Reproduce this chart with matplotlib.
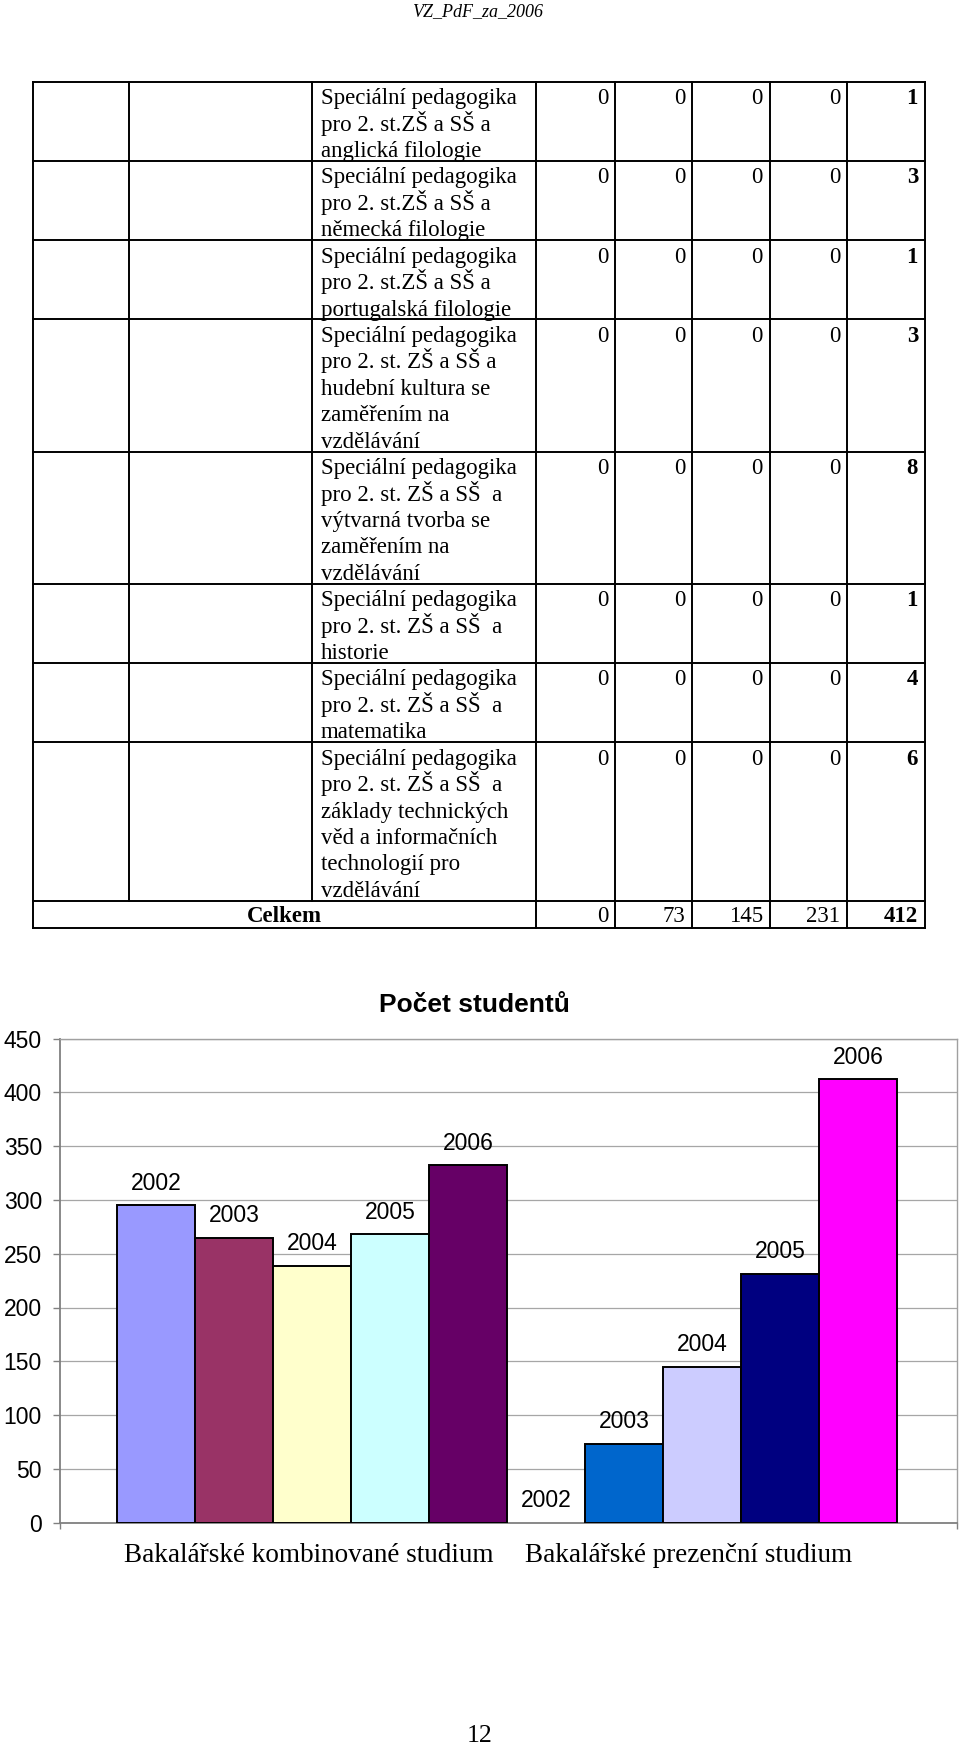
import matplotlib
matplotlib.use("Agg")
import matplotlib.pyplot as plt
import numpy as np

plt.rcParams["font.family"] = ["Liberation Sans", "DejaVu Sans"]

# --- table data ---
programs = [
    ["Speciální pedagogika", "pro 2. st.ZŠ a SŠ a", "anglická filologie"],
    ["Speciální pedagogika", "pro 2. st.ZŠ a SŠ a", "německá filologie"],
    ["Speciální pedagogika", "pro 2. st.ZŠ a SŠ a", "portugalská filologie"],
    ["Speciální pedagogika", "pro 2. st. ZŠ a SŠ a", "hudební kultura se",
     "zaměřením na", "vzdělávání"],
    ["Speciální pedagogika", "pro 2. st. ZŠ a SŠ  a", "výtvarná tvorba se",
     "zaměřením na", "vzdělávání"],
    ["Speciální pedagogika", "pro 2. st. ZŠ a SŠ  a", "historie"],
    ["Speciální pedagogika", "pro 2. st. ZŠ a SŠ  a", "matematika"],
    ["Speciální pedagogika", "pro 2. st. ZŠ a SŠ  a", "základy technických",
     "věd a informačních", "technologií pro", "vzdělávání"],
]
counts_2002 = [0, 0, 0, 0, 0, 0, 0, 0]
counts_2003 = [0, 0, 0, 0, 0, 0, 0, 0]
counts_2004 = [0, 0, 0, 0, 0, 0, 0, 0]
counts_2005 = [0, 0, 0, 0, 0, 0, 0, 0]
counts_2006 = [1, 3, 1, 3, 8, 1, 4, 6]
totals = [0, 73, 145, 231, 412]

# --- chart data ---
years = ["2002", "2003", "2004", "2005", "2006"]
kombinovane = [295, 265, 239, 268, 332]
prezencni = totals
categories = ["Bakalářské kombinované studium", "Bakalářské prezenční studium"]
colors_komb = ["#9999FF", "#993366", "#FFFFCC", "#CCFFFF", "#660066"]
colors_prez = ["#9999FF", "#0066CC", "#CCCCFF", "#000080", "#FF00FF"]

fig = plt.figure(figsize=(9.6, 17.45), dpi=100)
page = fig.add_axes([0, 0, 1, 1], zorder=0)
page.set_xlim(0, 960)
page.set_ylim(1745, 0)
page.axis("off")

serif = "Liberation Serif"
page.text(478, 16.5, "VZ_PdF_za_2006", ha="center", va="baseline",
          family=serif, style="italic", fontsize=13)

# table grid
col_x = [32.5, 128.6, 312.3, 536, 615, 692.3, 770, 847.3, 925]
line_h = 26.42
top = 81.7
lw = 1.4
y = top
row_tops = []
for lines in programs:
    row_tops.append(y)
    y += len(lines) * line_h
celkem_top = y
bottom = y + 27
page.plot([col_x[0], col_x[-1]], [top, top], color="black", lw=lw)
for rt in row_tops[1:] + [celkem_top, bottom]:
    page.plot([col_x[0], col_x[-1]], [rt, rt], color="black", lw=lw)
for i, cx in enumerate(col_x):
    y_end = celkem_top if i in (1, 2) else bottom
    page.plot([cx, cx], [top, y_end], color="black", lw=lw)

cols = [counts_2002, counts_2003, counts_2004, counts_2005, counts_2006]
fs = 16.5
for r, lines in enumerate(programs):
    base = row_tops[r] + 22.5
    for k, ln in enumerate(lines):
        page.text(321, base + k * line_h, ln, ha="left", va="baseline",
                  family=serif, fontsize=fs)
    for c in range(5):
        page.text(col_x[4 + c] - 7, base, str(cols[c][r]), ha="right",
                  va="baseline", family=serif, fontsize=fs,
                  weight="bold" if c == 4 else "normal")
page.text((col_x[0] + col_x[3]) / 2, celkem_top + 21, "Celkem", ha="center",
          va="baseline", family=serif, fontsize=fs, weight="bold")
for c in range(5):
    page.text(col_x[4 + c] - 7, celkem_top + 21, str(totals[c]), ha="right",
              va="baseline", family=serif, fontsize=fs,
              weight="bold" if c == 4 else "normal")

# chart title
page.text(474.5, 1011.7, "Počet studentů", ha="center", va="baseline",
          fontsize=19, weight="bold")

# bar chart
ax = fig.add_axes([60 / 960, (1745 - 1522.7) / 1745, 896.5 / 960, 484.2 / 1745],
                  zorder=2)
ax.patch.set_alpha(0)
heights = kombinovane + prezencni
bar_colors = colors_komb + colors_prez
x = np.arange(len(heights))
widths = [0 if h == 0 else 1.4 for h in heights]
ax.bar(x, heights, width=1.0, color=bar_colors, edgecolor="black",
       linewidth=widths, zorder=3)
labels = years + years
for xi, h, lab in zip(x, heights, labels):
    ax.annotate(lab, (xi, h), xytext=(0, 11.3), textcoords="offset points",
                ha="center", va="baseline", fontsize=16.5, zorder=4)

ax.set_ylim(0, 450)
ax.set_xlim(-1.235, 10.26)
ax.set_yticks(np.arange(0, 451, 50))
ax.yaxis.grid(True, color="#a6a6a6", lw=0.9)
ax.set_axisbelow(True)
for s in ["left", "bottom"]:
    ax.spines[s].set_color("#808080")
    ax.spines[s].set_linewidth(1.3)
for s in ["top", "right"]:
    ax.spines[s].set_color("#a0a0a0")
    ax.spines[s].set_linewidth(1.0)
ax.tick_params(axis="y", length=5, color="#808080", width=1, pad=8, labelsize=16.5)
ax.set_xticks([-1.235, 10.26])
ax.set_xticklabels([])
ax.tick_params(axis="x", length=4.5, color="#808080", width=1)

cat_pos = [1.95, 6.83]
for cp, cat in zip(cat_pos, categories):
    ax.annotate(cat, (cp, 0), xycoords=("data", "axes fraction"),
                xytext=(0, -28.1), textcoords="offset points", ha="center",
                va="baseline", family=serif, fontsize=19.5)

page.text(479.5, 1742, "12", ha="center", va="baseline", family=serif,
          fontsize=18.5)

fig.savefig("out.png", dpi=100)
